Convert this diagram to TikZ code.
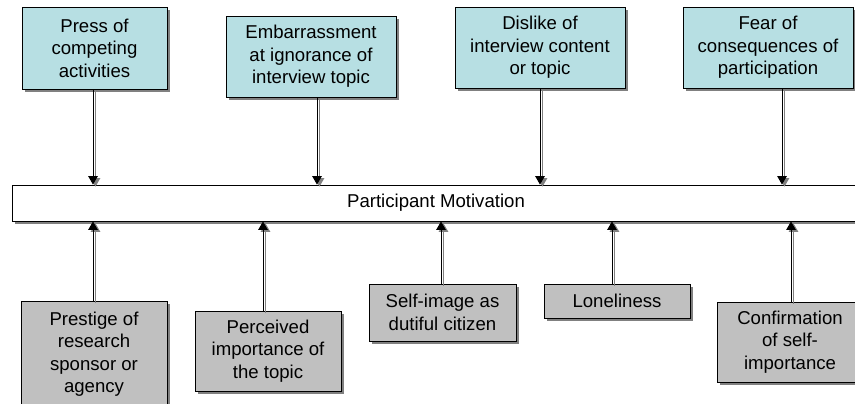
\documentclass[tikz,border=0pt]{standalone}
\usepackage{fontspec}
\setmainfont{Liberation Sans}
\usetikzlibrary{arrows.meta,shadows}
\definecolor{tealfill}{RGB}{183,223,227}
\definecolor{greyfill}{RGB}{192,192,192}
\definecolor{shade}{RGB}{128,128,128}
\begin{document}
\begin{tikzpicture}[x=1pt,y=-1pt,
  lbl/.style={font=\fontsize{18.6}{22.5}\selectfont, align=center, inner sep=0pt},
  box/.style={lbl, rectangle, draw=black, line width=0.8pt,
    drop shadow={shadow xshift=3pt, shadow yshift=-3pt, fill=shade, opacity=1}},
  topbox/.style={box, fill=tealfill},
  botbox/.style={box, fill=greyfill},
  arr/.style={line width=1pt, -{Triangle[length=8.5pt,width=9.5pt]}},
  arrshade/.style={arr, draw=shade, fill=shade}
]
\useasboundingbox (0,0) rectangle (855,404);
\clip (0,0) rectangle (855,404);

% factors that lower motivation
\node[topbox, minimum width=145pt, minimum height=82pt] (t1) at (94.5,48)
  {Press of\\competing\\activities};
\node[topbox, minimum width=170pt, minimum height=81pt] (t2) at (311,56.5)
  {Embarrassment\\at ignorance of\\interview topic};
\node[topbox, minimum width=170pt, minimum height=81pt] (t3) at (540,47.5)
  {Dislike of\\interview content\\or topic};
\node[topbox, minimum width=170pt, minimum height=81pt] (t4) at (768,47.5)
  {Fear of\\consequences of\\participation};

% factors that raise motivation
\node[botbox, minimum width=146pt, minimum height=106pt] (b1) at (94,354)
  {Prestige of\\research\\sponsor or\\agency};
\node[botbox, minimum width=146pt, minimum height=80pt] (b2) at (268,351)
  {Perceived\\importance of\\the topic};
\node[botbox, minimum width=147pt, minimum height=57pt] (b3) at (442.5,312.5)
  {Self-image as\\dutiful citizen};
\node[botbox, minimum width=146pt, minimum height=34pt] (b4) at (617,301)
  {Loneliness};
\node[botbox, minimum width=146pt, minimum height=80pt] (b5) at (790,342)
  {Confirmation\\of self-\\importance};

% central bar
\node[box, fill=white, minimum width=848pt, minimum height=36pt] (bar) at (436,203)
  {Participant Motivation};

% arrows into the bar, each with a grey offset shadow
\foreach \n/\dx in {t1/-1.5, t2/6, t3/0, t4/14} {
  \draw[arrshade, transform canvas={xshift=2.5pt, yshift=-2pt}]
    ([xshift=\dx pt]\n.south) -- ([xshift=\dx pt]\n.south |- bar.north);
  \draw[arr] ([xshift=\dx pt]\n.south) -- ([xshift=\dx pt]\n.south |- bar.north);
}
\foreach \n/\dx in {b1/-1, b2/-5, b3/-1.5, b4/-5, b5/1} {
  \draw[arrshade, transform canvas={xshift=2.5pt, yshift=-2pt}]
    ([xshift=\dx pt]\n.north) -- ([xshift=\dx pt]\n.north |- bar.south);
  \draw[arr] ([xshift=\dx pt]\n.north) -- ([xshift=\dx pt]\n.north |- bar.south);
}
\end{tikzpicture}
\end{document}
